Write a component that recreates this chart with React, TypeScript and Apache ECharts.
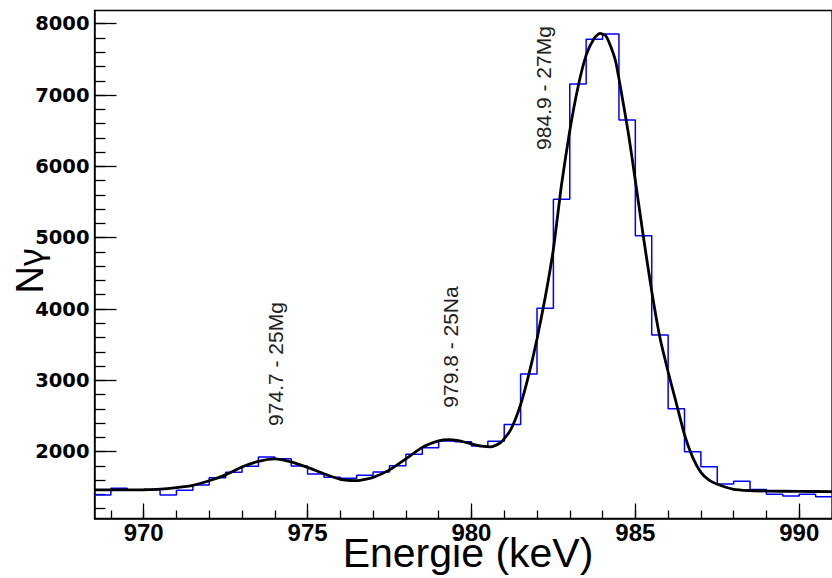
import React, { useEffect, useRef } from "react";
import * as echarts from "echarts";

// ---- data ----
const BIN_START = 968.5;
const BIN_WIDTH = 0.5;
const histCounts = [
  1393, 1486, 1465, 1465, 1393, 1459, 1533, 1636, 1711, 1795, 1925, 1901, 1800,
  1687, 1640, 1627, 1669, 1715, 1804, 1963, 2056, 2150, 2140, 2080, 2146, 2380,
  3089, 4010, 5538, 7155, 7781, 7856, 6650, 5026, 3636, 2603, 2000, 1790, 1545,
  1584, 1468, 1402, 1379, 1402, 1369,
];

const fitEnergy = [
  968.5, 969, 969.5, 970, 970.5, 971, 971.5, 972, 972.5, 973, 973.5, 974, 974.5,
  975, 975.5, 976, 976.5, 977, 977.5, 978, 978.5, 979, 979.3, 979.6, 980, 980.3,
  980.6, 980.9, 981.2, 981.5, 981.75, 982, 982.25, 982.5, 982.75, 983, 983.25,
  983.5, 983.75, 983.92, 984.1, 984.25, 984.4, 984.55, 984.8, 985, 985.25, 985.5,
  985.75, 986, 986.25, 986.5, 986.75, 987, 987.25, 987.5, 988, 988.5, 989, 990,
  991,
];
const fitCounts = [
  1463, 1463, 1464, 1466, 1474, 1496, 1528, 1592, 1675, 1785, 1865, 1900, 1858,
  1780, 1690, 1612, 1595, 1640, 1745, 1900, 2060, 2150, 2170, 2155, 2110, 2078,
  2068, 2130, 2310, 2660, 3080, 3580, 4160, 4840, 5750, 6500, 7110, 7560, 7800,
  7865, 7830, 7680, 7470, 7100, 6430, 5800, 5000, 4250, 3600, 3120, 2680, 2240,
  1920, 1710, 1600, 1543, 1473, 1455, 1448, 1443, 1440,
];

const xMajorTicks = [970, 975, 980, 985, 990];
const xMinorTicks = [
  969, 970, 971, 972, 973, 974, 975, 976, 977, 978, 979, 980, 981, 982, 983, 984,
  985, 986, 987, 988, 989, 990, 991,
];
const yMajorTicks = [2000, 3000, 4000, 5000, 6000, 7000, 8000];
const yMinorTicks = [
  1200, 1400, 1600, 1800, 2000, 2200, 2400, 2600, 2800, 3000, 3200, 3400, 3600,
  3800, 4000, 4200, 4400, 4600, 4800, 5000, 5200, 5400, 5600, 5800, 6000, 6200,
  6400, 6600, 6800, 7000, 7200, 7400, 7600, 7800, 8000,
];

const X_MIN = 968.5;
const X_MAX = 991;
const Y_MIN = 1063;
const Y_MAX = 8185;

const xTitle = "Energie (keV)";
const yTitleN = "N";
const yTitleGamma = "γ";
const peakLabels = ["974.7 - 25Mg", "979.8 - 25Na", "984.9 - 27Mg"];

export default function App() {
  const ref = useRef<HTMLDivElement>(null);

  useEffect(() => {
    if (!ref.current) return;
    const chart = echarts.init(ref.current, undefined, { renderer: "svg" });

    const histData: [number, number][] = histCounts.map((c, i) => [
      BIN_START + i * BIN_WIDTH,
      c,
    ]);
    histData.push([
      BIN_START + histCounts.length * BIN_WIDTH,
      histCounts[histCounts.length - 1],
    ]);
    const fitData = fitEnergy.map((e, i) => [e, fitCounts[i]]);

    const labelPos = [
      { x: 275, y: 364 },
      { x: 450, y: 347 },
      { x: 543, y: 88 },
    ];

    const tickLine = { color: "#000", width: 1.3 };
    const plain = (v: number) => String(v);

    chart.setOption({
      animation: false,
      backgroundColor: "#fff",
      grid: {
        left: 94.5,
        top: 10.5,
        right: -10.8,
        bottom: 59.5,
        show: true,
        borderColor: "#000",
        borderWidth: 1.3,
        backgroundColor: "transparent",
      },
      xAxis: [
        {
          type: "value",
          min: X_MIN,
          max: X_MAX,
          position: "bottom",
          axisLine: { show: true, lineStyle: { color: "#000", width: 1.5 } },
          axisTick: {
            show: true,
            inside: true,
            length: 15,
            customValues: xMajorTicks,
            lineStyle: tickLine,
          },
          axisLabel: {
            show: true,
            customValues: xMajorTicks,
            formatter: plain,
            fontFamily: "Liberation Sans",
            fontWeight: "bold",
            fontSize: 24,
            lineHeight: 16,
            color: "#000",
            margin: 6,
          },
          splitLine: { show: false },
        },
        {
          type: "value",
          min: X_MIN,
          max: X_MAX,
          position: "bottom",
          offset: 0,
          axisLine: { show: false },
          axisTick: {
            show: true,
            inside: true,
            length: 8,
            customValues: xMinorTicks,
            lineStyle: tickLine,
          },
          axisLabel: { show: false },
          splitLine: { show: false },
        },
      ],
      yAxis: [
        {
          type: "value",
          min: Y_MIN,
          max: Y_MAX,
          position: "left",
          axisLine: { show: true, lineStyle: { color: "#000", width: 1.5 } },
          axisTick: {
            show: true,
            inside: true,
            length: 22,
            customValues: yMajorTicks,
            lineStyle: tickLine,
          },
          axisLabel: {
            show: true,
            customValues: yMajorTicks,
            formatter: plain,
            fontFamily: "DejaVu Sans",
            fontWeight: "bold",
            fontSize: 19.5,
            color: "#000",
            margin: 5,
          },
          splitLine: { show: false },
        },
        {
          type: "value",
          min: Y_MIN,
          max: Y_MAX,
          position: "left",
          offset: 0,
          axisLine: { show: false },
          axisTick: {
            show: true,
            inside: true,
            length: 11,
            customValues: yMinorTicks,
            lineStyle: tickLine,
          },
          axisLabel: { show: false },
          splitLine: { show: false },
        },
      ],
      series: [
        {
          type: "line",
          name: "histogram",
          xAxisIndex: 0,
          yAxisIndex: 0,
          data: histData,
          step: "end",
          showSymbol: false,
          lineStyle: { color: "#0000ff", width: 1.5 },
          itemStyle: { color: "#0000ff" },
          z: 2,
        },
        {
          type: "line",
          name: "fit",
          xAxisIndex: 0,
          yAxisIndex: 0,
          data: fitData,
          smooth: 0.2,
          showSymbol: false,
          lineStyle: { color: "#000", width: 2.8 },
          itemStyle: { color: "#000" },
          z: 3,
        },
      ],
      graphic: [
        {
          type: "text",
          x: 468,
          y: 553,
          style: {
            text: xTitle,
            fontFamily: "Liberation Sans",
            fontSize: 41,
            lineHeight: 26,
            fill: "#000",
            textAlign: "center",
            textVerticalAlign: "middle",
          },
        },
        {
          type: "text",
          x: 30,
          y: 271,
          rotation: Math.PI / 2,
          style: {
            text: "{n|" + yTitleN + "}{g|" + yTitleGamma + "}",
            textAlign: "center",
            textVerticalAlign: "middle",
            rich: {
              n: {
                fontFamily: "Liberation Sans",
                fontSize: 38,
                fill: "#000",
              },
              g: {
                fontFamily: "Noto Sans",
                fontSize: 34,
                fill: "#000",
              },
            },
          },
        },
        ...peakLabels.map((t, i) => ({
          type: "text",
          x: labelPos[i].x,
          y: labelPos[i].y,
          rotation: Math.PI / 2,
          style: {
            text: t,
            fontFamily: "Liberation Sans",
            fontSize: 21,
            fill: "#222",
            textAlign: "center",
            textVerticalAlign: "middle",
          },
        })),
      ],
    });

    return () => chart.dispose();
  }, []);

  return (
    <div
      ref={ref}
      style={{ position: "absolute", left: 0, top: 0, width: 832, height: 578 }}
    />
  );
}
